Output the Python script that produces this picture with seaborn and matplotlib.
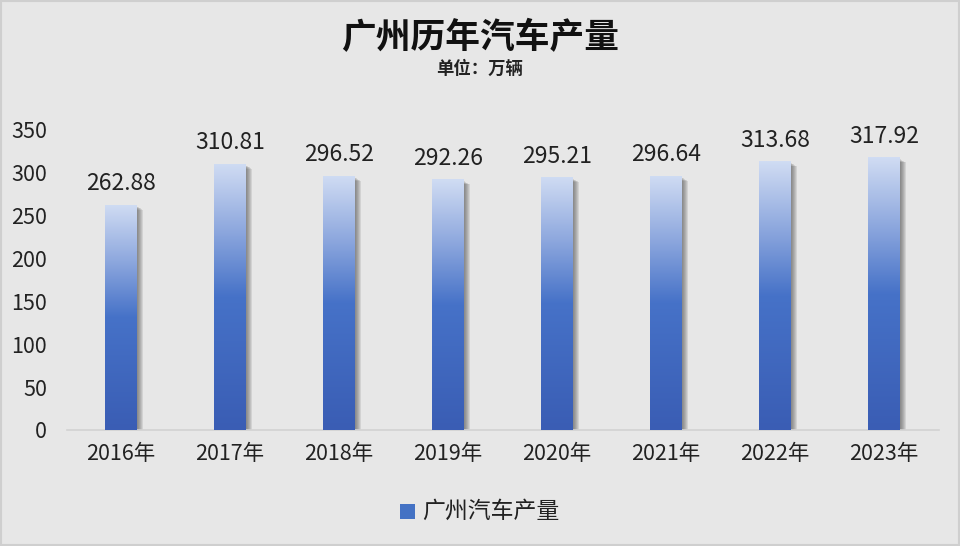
import numpy as np
import pandas as pd
import matplotlib
matplotlib.use("Agg")
import matplotlib.pyplot as plt
from matplotlib.colors import LinearSegmentedColormap
from matplotlib.patches import Rectangle
import seaborn as sns

years = ["2016年", "2017年", "2018年", "2019年", "2020年", "2021年", "2022年", "2023年"]
output = [262.88, 310.81, 296.52, 292.26, 295.21, 296.64, 313.68, 317.92]
title = "广州历年汽车产量"
subtitle = "单位：万辆"
series_name = "广州汽车产量"
yticks = [0, 50, 100, 150, 200, 250, 300, 350]

sns.set_theme(style="white")
plt.rcParams["font.family"] = ["Noto Sans CJK SC", "DejaVu Sans"]

BG = "#e7e7e7"
fig = plt.figure(figsize=(9.6, 5.46), dpi=100, facecolor=BG)
ax = fig.add_axes([66.5 / 960, 1 - 430 / 546, 872 / 960, 300 / 546])
ax.set_facecolor(BG)

df = pd.DataFrame({"year": years, "value": output})
sns.barplot(data=df, x="year", y="value", ax=ax, width=0.285, color="#4472c4",
            saturation=1, errorbar=None, zorder=3, linewidth=0)

cmap = LinearSegmentedColormap.from_list(
    "g", [(0.0, "#3a5db4"), (0.5, "#4672c8"), (0.75, "#8ea8de"), (1.0, "#d0dcf3")])
grad = np.linspace(0, 1, 256).reshape(-1, 1)

px = 1.0 / 109.0  # one pixel in x data units
py = 350.0 / 300.0  # one pixel in y data units
for p in list(ax.patches):
    x0, y0 = p.get_x(), p.get_y()
    w, h = p.get_width(), p.get_height()
    # soft shadow on the right
    for i in range(6):
        dx = px * (i + 1)
        ax.add_patch(Rectangle((x0 + w - px, y0), dx + px, h - py * (2 + i * 0.6),
                               facecolor="#4a4a4a", alpha=0.13, edgecolor="none",
                               linewidth=0, zorder=2))
    p.set_facecolor("none")
    p.set_edgecolor("none")
    p.set_linewidth(0)
    im = ax.imshow(grad, cmap=cmap, origin="lower", aspect="auto",
                   extent=[x0, x0 + w, y0, y0 + h], zorder=3.5)
    im.set_clip_path(p)

for i, v in enumerate(output):
    ax.text(i, v + 11, f"{v:.2f}", ha="center", va="bottom", fontsize=16.5,
            color="#222222", zorder=5)

ax.set_xlim(-0.5, len(years) - 0.5)
ax.set_ylim(0, 350)
ax.set_yticks(yticks)
ax.set_yticklabels([str(t) for t in yticks], fontsize=15.5, color="#222222")
ax.tick_params(axis="x", labelsize=15.5, colors="#222222", length=0, pad=9)
ax.tick_params(axis="y", length=0, pad=14)
ax.set_xlabel("")
ax.set_ylabel("")
for s in ["top", "right", "left"]:
    ax.spines[s].set_visible(False)
ax.spines["bottom"].set_color("#d2d2d2")
ax.spines["bottom"].set_linewidth(1.2)
ax.grid(False)

fig.text(0.5, 1 - 38 / 546, title, ha="center", va="center", fontsize=25,
         fontweight="bold", color="#111111")
fig.text(0.5, 1 - 69 / 546, subtitle, ha="center", va="center", fontsize=12.5,
         fontweight="bold", color="#222222")

# legend
lx, ly = 400 / 960, 1 - 511 / 546
fig.patches.append(Rectangle((lx, ly - 7.5 / 546), 15 / 960, 15 / 546,
                             transform=fig.transFigure, facecolor="#4472c4",
                             edgecolor="none"))
fig.text(422 / 960, ly, series_name, ha="left", va="center", fontsize=16.5,
         color="#222222")

fig.patches.append(Rectangle((0.001, 0.001), 0.998, 0.998, transform=fig.transFigure,
                             facecolor="none", edgecolor="#cfcfcf", linewidth=1.5))

fig.savefig("out.png", dpi=100, facecolor=BG)
